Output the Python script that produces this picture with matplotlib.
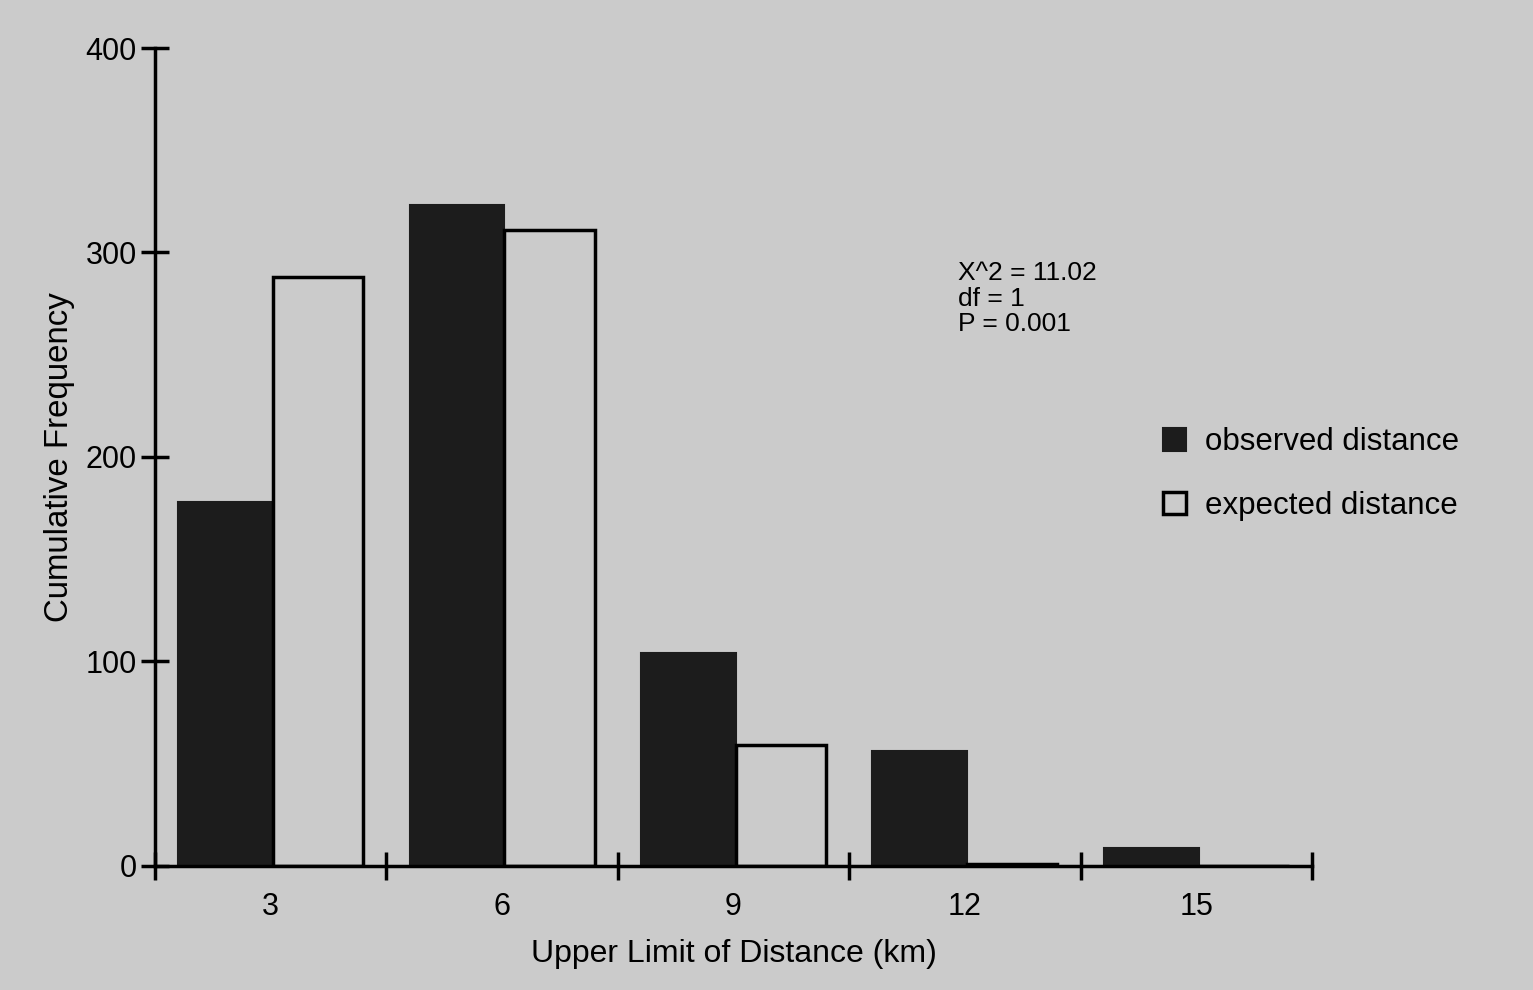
'''
Frequência cumulativa: distância observada vs esperada
'''

import numpy as np
import matplotlib.pyplot as plt

plt.rcParams['font.family'] = ['Liberation Sans', 'DejaVu Sans']

categories = ['3', '6', '9', '12', '15']
observed = [178, 323, 104, 56, 9]
expected = [288, 311, 59, 1, 0]

bg = '#cbcbcb'


def draw_chart():
    fig = plt.figure(figsize=(15.33, 9.9), dpi=100, facecolor=bg)
    ax = fig.add_axes([0.1011, 0.1253, 0.7547, 0.8262])
    ax.set_facecolor(bg)

    x = np.arange(len(categories))
    b1 = ax.bar(x + 0.1, observed, width=0.41, align='edge',
                color='#1c1c1c', edgecolor='#1c1c1c', linewidth=1.5,
                label='observed distance')
    b2 = ax.bar(x + 0.51, expected, width=0.39, align='edge',
                color='none', edgecolor='black', linewidth=2.5,
                label='expected distance')

    ax.set_xlim(0, 5)
    ax.set_ylim(0, 400)
    for s in ['top', 'right']:
        ax.spines[s].set_visible(False)
    for s in ['left', 'bottom']:
        ax.spines[s].set_linewidth(2.5)

    ax.set_yticks([0, 100, 200, 300, 400])
    ax.set_xticks(range(6))
    ax.set_xticklabels([])
    ax.set_xticks(x + 0.5, minor=True)
    ax.set_xticklabels(categories, minor=True)
    ax.tick_params(axis='both', which='major', direction='inout',
                   length=20, width=2.5, labelsize=22)
    ax.tick_params(axis='x', which='minor', length=0, labelsize=22, pad=19)
    ax.tick_params(axis='y', pad=3)

    ax.set_xlabel('Upper Limit of Distance (km)', fontsize=23, labelpad=12)
    ax.set_ylabel('Cumulative Frequency', fontsize=23.8, labelpad=8)

    fig.text(0.625, 0.736, 'X^2 = 11.02\ndf = 1\nP = 0.001',
             fontsize=19, va='top', ha='left', linespacing=1.07)

    ax.legend(handles=[b1, b2], frameon=False, fontsize=22.5,
              loc='upper left', bbox_to_anchor=(0.74, 0.597),
              bbox_transform=fig.transFigure,
              handlelength=0.75, handleheight=0.75, handletextpad=0.6,
              labelspacing=1.08)

    fig.savefig('out.png', dpi=100, facecolor=bg)


if __name__ == '__main__':
    draw_chart()
